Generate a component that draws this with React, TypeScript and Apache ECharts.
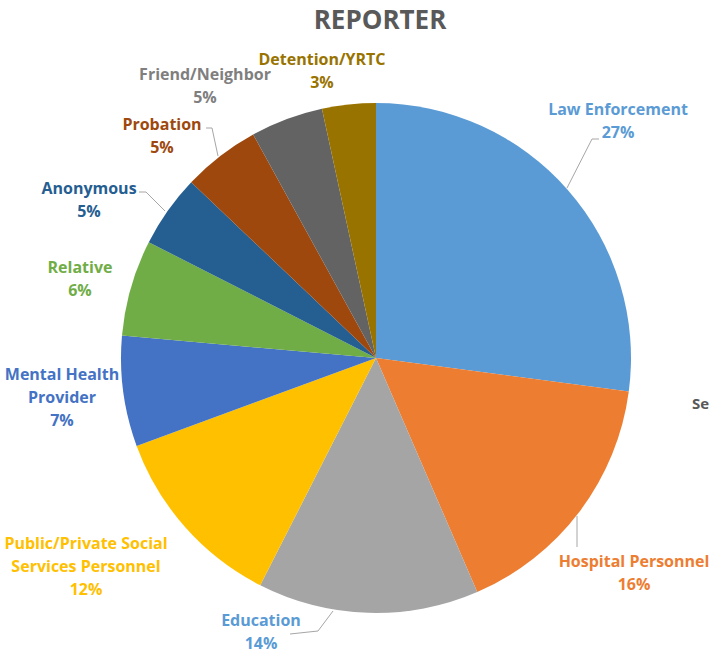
import React, { useEffect, useRef } from "react";
import * as echarts from "echarts";

const title = "REPORTER";
const categories = [
  "Law Enforcement",
  "Hospital Personnel",
  "Education",
  "Public/Private Social\nServices Personnel",
  "Mental Health\nProvider",
  "Relative",
  "Anonymous",
  "Probation",
  "Friend/Neighbor",
  "Detention/YRTC",
];
// shares (%); labels show them rounded
const values = [27.1, 16.4, 14.0, 11.9, 7.0, 6.1, 4.6, 4.9, 4.6, 3.4];
const sliceColors = [
  "#5B9BD5", "#ED7D31", "#A5A5A5", "#FFC000", "#4472C4",
  "#70AD47", "#255E91", "#9E480E", "#636363", "#997300",
];
const labelColors = [
  "#5B9BD5", "#ED7D31", "#5B9BD5", "#FFC000", "#4472C4",
  "#70AD47", "#255E91", "#9E480E", "#7F7F7F", "#997300",
];
const showLine = [true, true, true, false, false, false, true, true, false, false];
// label box centres (layout only)
const labelPos: [number, number][] = [
  [618, 120], [634, 572], [261, 631], [86, 566], [62, 397],
  [80, 278], [89, 199], [162, 135], [205, 85], [322, 70],
];
// leader line paths (layout only)
const leaderPaths: (number[][] | null)[] = [
  [[567, 188], [592, 139], [599, 139]],
  [[577, 516], [577, 531], [577, 547]],
  [[333, 611], [318, 631], [290, 634]],
  null,
  null,
  null,
  [[165, 211], [146, 192], [139, 192]],
  [[218, 156], [212, 128], [206, 128]],
  null,
  null,
];

export default function App() {
  const ref = useRef<HTMLDivElement>(null);
  useEffect(() => {
    if (!ref.current) return;
    const chart = echarts.init(ref.current, null, { renderer: "svg" });
    chart.setOption({
      animation: false,
      backgroundColor: "#ffffff",
      title: {
        text: title,
        left: 375,
        top: 1,
        textAlign: "center",
        textStyle: {
          fontFamily: "Open Sans",
          fontWeight: "bold",
          fontSize: 26,
          color: "#595959",
        },
      },
      graphic: [
        {
          type: "text",
          left: 692,
          top: 395,
          style: {
            text: "Se",
            fontFamily: "Open Sans",
            fontWeight: "bold",
            fontSize: 15,
            fill: "#595959",
          },
        },
      ],
      series: [
        {
          type: "pie",
          center: [376, 358],
          radius: 255,
          startAngle: 90,
          clockwise: true,
          label: {
            show: true,
            position: "outside",
            formatter: (p: any) => `${p.name}\n${Math.round(p.value)}%`,
            fontFamily: "Open Sans",
            fontWeight: "bold",
            fontSize: 16,
            lineHeight: 23,
            align: "center",
            overflow: "none",
            width: 300,
          },
          labelLine: {
            show: true,
            lineStyle: { color: "#A6A6A6", width: 1 },
          },
          labelLayout: (params: any) => {
            const i = params.dataIndex;
            const p = labelPos[i];
            const out: any = { x: p[0], y: p[1], align: "center", verticalAlign: "middle" };
            if (leaderPaths[i]) out.labelLinePoints = leaderPaths[i];
            return out;
          },
          data: categories.map((name, i) => ({
            name,
            value: values[i],
            itemStyle: { color: sliceColors[i] },
            label: { color: labelColors[i] },
            labelLine: { show: showLine[i] },
          })),
        },
      ],
    });
    return () => chart.dispose();
  }, []);
  return (
    <div
      ref={ref}
      style={{ position: "absolute", left: 0, top: 0, width: 712, height: 655 }}
    />
  );
}
